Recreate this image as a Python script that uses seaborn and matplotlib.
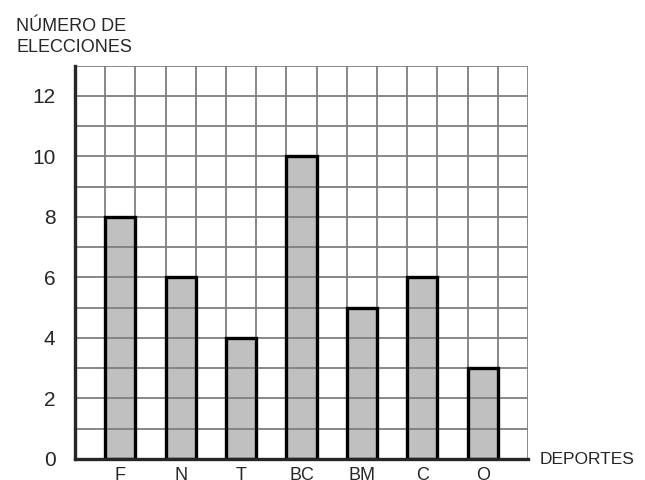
import matplotlib
matplotlib.use("Agg")
import matplotlib.pyplot as plt
import seaborn as sns
import numpy as np
import pandas as pd

# ==========================================
# DONNÉES
# ==========================================
deportes = ["F", "N", "T", "BC", "BM", "C", "O"]
elecciones = [8, 6, 4, 10, 5, 6, 3]
posiciones = [1.5, 3.5, 5.5, 7.5, 9.5, 11.5, 13.5]
y_ticks = [0, 2, 4, 6, 8, 10, 12]

df = pd.DataFrame({"pos": posiciones, "deporte": deportes, "n": elecciones})

sns.set_style("white")
plt.rcParams["font.family"] = ["Liberation Sans", "DejaVu Sans"]

fig = plt.figure(figsize=(6.45, 4.8), dpi=100)
ax = fig.add_axes([75 / 645, 21 / 480, 453 / 645, 393.5 / 480])

# relleno de las barras (debajo de la cuadrícula)
sns.barplot(data=df, x="pos", y="n", native_scale=True, width=0.5,
            color="#c0c0c0", saturation=1, edgecolor="none", linewidth=0,
            ax=ax, zorder=1)

# cuadrícula gris
for xv in range(0, 16):
    ax.axvline(xv, color="#7f7f7f", linewidth=1.3, zorder=2)
for yv in range(0, 14):
    ax.axhline(yv, color="#7f7f7f", linewidth=1.3, zorder=2)

# contorno de las barras
sns.barplot(data=df, x="pos", y="n", native_scale=True, width=0.5,
            fill=False, edgecolor="black", linewidth=2.4,
            ax=ax, zorder=3)

ax.set_xlim(0, 15)
ax.set_ylim(0, 13)

for s in ["top", "right"]:
    ax.spines[s].set_visible(False)
ax.spines["left"].set_linewidth(2.4)
ax.spines["bottom"].set_linewidth(2.4)
ax.spines["left"].set_zorder(4)
ax.spines["bottom"].set_zorder(4)

ax.set_xticks(posiciones)
ax.set_xticklabels(deportes)
ax.tick_params(axis="x", length=0, pad=6, labelsize=13)

ax.set_yticks(range(0, 13))
ax.set_yticklabels([str(v) if v in y_ticks else "" for v in range(0, 13)])
ax.tick_params(axis="y", length=12, width=1.3, pad=2, labelsize=15, color="black")

ax.set_xlabel("")
ax.set_ylabel("")

fig.text(16 / 645, 1 - 37 / 480, "NÚMERO DE\nELECCIONES", fontsize=13,
         ha="left", va="center", linespacing=1.3)
ax.text(15.4, 0, "DEPORTES", fontsize=12.5, ha="left", va="center", clip_on=False)

plt.savefig("out.png", dpi=100)
plt.close()
